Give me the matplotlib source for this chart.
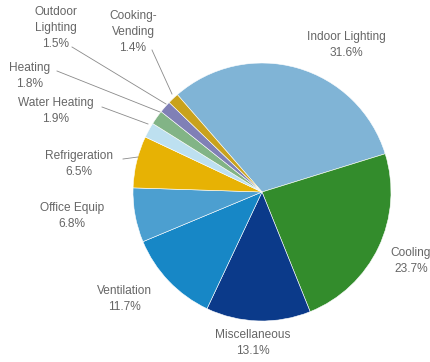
import matplotlib.pyplot as plt

names = ["Indoor Lighting", "Cooling", "Miscellaneous", "Ventilation", "Office Equip",
         "Refrigeration", "Water Heating", "Heating", "Outdoor Lighting", "Cooking-\nVending"]
shares = [31.6, 23.7, 13.1, 11.7, 6.8, 6.5, 1.9, 1.8, 1.5, 1.4]
colors = ["#80b4d6", "#338c2c", "#0b3a8a", "#1787c6", "#4c9fd0",
          "#e7b204", "#bde0f0", "#82b486", "#8080b6", "#c9a21c"]

H = 362
fig = plt.figure(figsize=(4.3, 3.62), dpi=100)
ax = fig.add_axes([0, 0, 1, 1])

ax.pie(shares, colors=colors, startangle=131, counterclock=False,
       center=(262, H - 192), radius=129,
       wedgeprops=dict(edgecolor="white", linewidth=0.4))
# pie() resets the limits, so set them afterwards
ax.set_xlim(0, 430)
ax.set_ylim(0, H)
ax.set_aspect("equal")
ax.axis("off")

# label placement (pixels from top-left), with leader line points where used
label_pos = {
    "Indoor Lighting": (346, 45, None),
    "Cooling": (411, 261, None),
    "Miscellaneous": (253, 343, None),
    "Ventilation": (124, 299, None),
    "Office Equip": (72, 216, None),
    "Refrigeration": (79, 164, [(123, 159), (138, 157)]),
    "Water Heating": (56, 111, [(102, 107), (148, 124)]),
    "Heating": (30, 76, [(57, 71), (160, 112)]),
    "Outdoor Lighting": (56, 28, [(72, 47), (166, 104)]),
    "Cooking-\nVending": (133, 32, [(152, 50), (172, 94)]),
}

for name, val in zip(names, shares):
    x, y, lead = label_pos[name]
    txt = name.replace(" Lighting", "\nLighting") if name == "Outdoor Lighting" else name
    ax.text(x, H - y, f"{txt}\n{val}%", ha="center", va="center", fontsize=8.6,
            color="#666666", family="Liberation Sans", linespacing=1.45)
    if lead:
        ax.plot([p[0] for p in lead], [H - p[1] for p in lead], color="#8a8a8a", lw=0.6)

fig.savefig("out.png", dpi=100)
